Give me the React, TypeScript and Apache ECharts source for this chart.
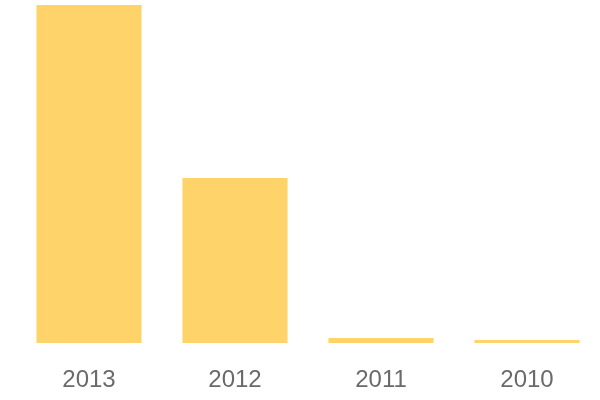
import React, { useEffect, useRef } from "react";
import * as echarts from "echarts";

const categories = ["2013", "2012", "2011", "2010"];
const values = [1000, 488, 15, 9];

export default function App() {
  const ref = useRef<HTMLDivElement>(null);
  useEffect(() => {
    const chart = echarts.init(ref.current!, null, { renderer: "svg" });
    chart.setOption({
      animation: false,
      grid: { left: 16, right: 0, top: 5, bottom: 57, containLabel: false },
      xAxis: {
        type: "category",
        data: categories,
        axisLine: { show: false },
        axisTick: { show: false },
        axisLabel: {
          color: "#6a6a6a",
          fontSize: 24,
          fontFamily: "Liberation Sans, Arial, sans-serif",
          margin: 23,
        },
      },
      yAxis: {
        type: "value",
        min: 0,
        max: "dataMax",
        show: false,
        splitLine: { show: false },
      },
      series: [
        {
          type: "bar",
          data: values,
          barCategoryGap: "28%",
          itemStyle: { color: "#FED46A" },
        },
      ],
    });
    return () => chart.dispose();
  }, []);
  return (
    <div
      ref={ref}
      style={{ position: "fixed", left: 0, top: 0, width: 600, height: 400 }}
    />
  );
}
